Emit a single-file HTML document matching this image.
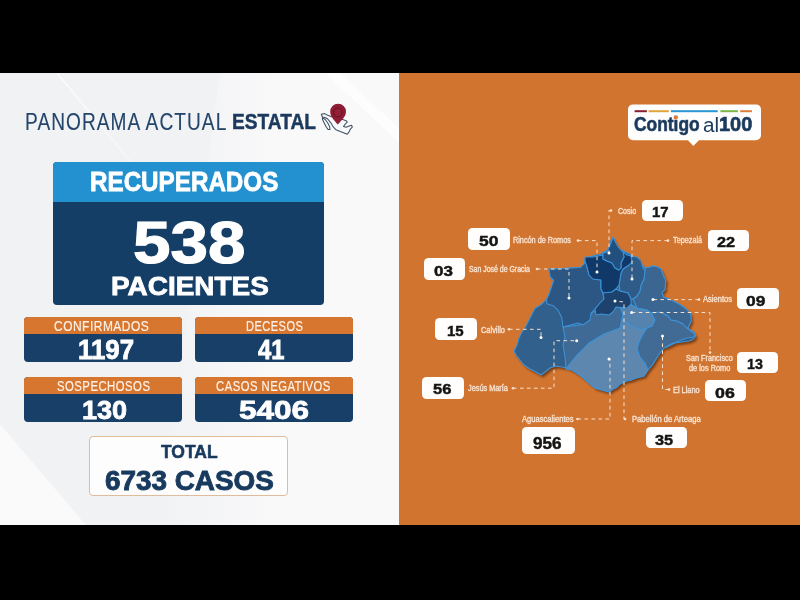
<!DOCTYPE html>
<html><head><meta charset="utf-8">
<style>
*{margin:0;padding:0;box-sizing:border-box}
html,body{width:800px;height:600px;overflow:hidden;background:#000}
body{position:relative;font-family:"Liberation Sans",sans-serif}
.left{position:absolute;left:0;top:73px;width:399px;height:452px;background:#f1f2f4;overflow:hidden}
.right{position:absolute;left:398.5px;top:73px;width:401.5px;height:452px;background:#d1742f}
.t{position:absolute;white-space:nowrap;transform-origin:0 0}
.nb{position:absolute;background:#fffefc;border-radius:4.5px}
.box{position:absolute;border-radius:4px;overflow:hidden}
</style></head><body>
<div class="left">
  <svg width="399" height="452" style="position:absolute;left:0;top:0">
    <defs>
      <linearGradient id="g1" x1="0" y1="0" x2="1" y2="1">
        <stop offset="0" stop-color="#ffffff" stop-opacity="1"/>
        <stop offset="1" stop-color="#ffffff" stop-opacity="0"/>
      </linearGradient>
      <linearGradient id="g2" x1="0" y1="0" x2="1" y2="0">
        <stop offset="0" stop-color="#f9f9fa" stop-opacity="0"/>
        <stop offset="0.5" stop-color="#f9f9fa" stop-opacity="1"/>
      </linearGradient>
    </defs>
    <polygon points="220,0 399,0 399,452 160,452" fill="url(#g2)"/>
    <polygon points="325,0 340,0 399,55 399,70" fill="#fdfdfd"/>
    <line x1="57" y1="0" x2="190" y2="160" stroke="url(#g1)" stroke-width="1.5" opacity="0.8"/>
    <polygon points="0,351 0,452 86,452" fill="#fafafb"/>
  </svg>
</div>
<div class="right"></div>

<!-- Mexico icon -->
<svg style="position:absolute;left:0;top:0" width="800" height="600" viewBox="0 0 800 600">
  <g fill="#f8f9fa" stroke="#3f4f63" stroke-width="1.05" stroke-linejoin="round">
    <path d="M321.3,114.2 L324.5,113.6 L327.7,115.2 L331,116.5 L336,118.5 L342.8,119.6 L346.6,120.9 L347.3,122.2 L344.7,124.7 L343.5,126.6 L346,127.2 L349.2,126 L351.7,125.3 L352.3,127.2 L350.4,129.1 L349.2,131.6 L347.3,134.2 L344.1,132.9 L340.3,131.6 L335.9,129.7 L333.4,127.2 L330.8,122.8 L327.7,119 L325,117.5 L322.5,117 Z"/>
    <path d="M322.3,117.6 L325.2,119.5 L327.5,122.5 L329.6,126.5 L330,129.5 L328,129.5 L326,126.5 L324,122.5 L322.5,119.5 Z"/>
  </g>
  <path d="M338.1,103.8 a7.9,7.9 0 0 1 7.9,7.9 c0,5 -5.3,9.5 -8.2,12.7 c-2.9,-3.2 -7.6,-7.7 -7.6,-12.7 a7.9,7.9 0 0 1 7.9,-7.9z" fill="#8e1c32"/>
  <circle cx="337.8" cy="112.4" r="4.3" fill="#951f36" stroke="#65121f" stroke-width="1"/>
</svg>

<!-- Recuperados box -->
<div class="box" style="left:53px;top:162px;width:271px;height:143px;background:#153e66">
  <div style="position:absolute;left:0;top:0;width:100%;height:40px;background:#2391d0"></div>
</div>
<!-- small boxes -->
<div class="box" style="left:24px;top:317px;width:158px;height:45px;background:#173f67"><div style="height:17px;background:#d7762f"></div></div>
<div class="box" style="left:195px;top:317px;width:157.5px;height:45px;background:#173f67"><div style="height:17px;background:#d7762f"></div></div>
<div class="box" style="left:24px;top:376.6px;width:158px;height:45.5px;background:#173f67"><div style="height:17px;background:#d7762f"></div></div>
<div class="box" style="left:195px;top:376.6px;width:157.5px;height:45.5px;background:#173f67"><div style="height:17px;background:#d7762f"></div></div>
<!-- total -->
<div class="box" style="left:89px;top:436px;width:199px;height:60px;background:#fdfdfd;border:1.3px solid #dfbc9c"></div>

<!-- Contigo logo -->
<svg style="position:absolute;left:620px;top:100px" width="150" height="50" viewBox="620 100 150 50">
  <path d="M633,104.4 H756 a5,5 0 0 1 5,5 V135.3 a5,5 0 0 1 -5,5 H699 L693.3,146 L688,140.3 H633 a5,5 0 0 1 -5,-5 V109.4 a5,5 0 0 1 5,-5z" fill="#fefefe"/>
  <rect x="634.6" y="110.2" width="12.3" height="2" fill="#8a1f33"/>
  <rect x="648.6" y="110.2" width="20.2" height="2" fill="#e0a63a"/>
  <rect x="670.9" y="110.2" width="46.8" height="2" fill="#2a96d2"/>
  <rect x="720.4" y="110.2" width="17.5" height="2" fill="#7ab648"/>
  <rect x="740.2" y="110.2" width="11.7" height="2" fill="#e07c3a"/>
  
</svg>

<!-- MAP -->
<svg style="position:absolute;left:0;top:0" width="800" height="600" viewBox="0 0 800 600">
  <defs>
    <filter id="sh" x="-20%" y="-20%" width="140%" height="140%"><feGaussianBlur stdDeviation="1.3"/></filter>
  </defs>
  <g id="map">
  <polygon transform="translate(2,2.5)" filter="url(#sh)" fill="#4a230c" opacity="0.65" points="613,237 615,242 618,247 621,250 630,254 633,257 638,258 640,263 645,268 650,267 653,266 657.5,267 661,269 663.5,276 665.7,280 665,289.5 662,292.5 663.5,297 671,300 680,304.5 686,309 690.5,313.5 691.2,321 689,325.5 687.5,328.5 693.5,331.5 695.7,336 693.5,339 689,341 675,343 667,347 663,348 660,353 656,359 653,364 648,370 644,376 636,378 631,380 626,381 620,384 617,387 613,389 609,392 595,388 580,375 572,370 568,368 562,367 556,366 550,368 545,372 541,375 536,372 530,369 524,365 520,360 516,355 514,351 517,345 519,338 522,332 526,326 530,318 535,308.3 540.8,304.8 546.7,299 549,294.3 551.3,287.3 553.7,280.3 550.2,276.8 549,269.3 580.5,267.5 584,264 585.2,258.2 593.3,255.8 601,254 607,250 610,248 610,242"/>
  <g stroke="#3d93d8" stroke-width="1.05" stroke-linejoin="round">
  <polygon fill="#32608c" points="613,237 615,242 618,247 621,250 630,254 633,257 638,258 640,263 645,268 650,267 653,266 657.5,267 661,269 663.5,276 665.7,280 665,289.5 662,292.5 663.5,297 671,300 680,304.5 686,309 690.5,313.5 691.2,321 689,325.5 687.5,328.5 693.5,331.5 695.7,336 693.5,339 689,341 675,343 667,347 663,348 660,353 656,359 653,364 648,370 644,376 636,378 631,380 626,381 620,384 617,387 613,389 609,392 595,388 580,375 572,370 568,368 562,367 556,366 550,368 545,372 541,375 536,372 530,369 524,365 520,360 516,355 514,351 517,345 519,338 522,332 526,326 530,318 535,308.3 540.8,304.8 546.7,299 549,294.3 551.3,287.3 553.7,280.3 550.2,276.8 549,269.3 580.5,267.5 584,264 585.2,258.2 593.3,255.8 601,254 607,250 610,248 610,242"/>
  <!-- Aguascalientes -->
  <polygon fill="#5d87af" points="620,307 628,303 637,308 647,310 651,313 655,320 652,326 647,328 643,334 639,342 637,349 640,357 645,363 648,370 644,376 636,378 631,380 626,381 620,384 617,387 613,389 609,392 595,388 580,375 572,370 566,369 572,361 578,354 589,343 604,334 620,328 623,314"/>
  <!-- SF de los Romo -->
  <polygon fill="#5683ad" points="620,307 628,303 637,308 647,310 651,313 655,320 652,326 647,328 640,330 632,326 623,320 623,314"/>
  <!-- El Llano -->
  <polygon fill="#416b94" points="651,313 660,312 668,316 671,320 677,321 683,324 687,328 692,332 695,334 694,337 687,338 679,341 671,344 664,348 660,353 656,359 653,364 648,370 645,363 640,357 637,349 639,342 643,334 647,328 652,326 655,320"/>
  <!-- Asientos -->
  <polygon fill="#3b6691" points="645,268 650,267 653,266 657.5,267 661,269 663.5,276 665.7,280 665,289.5 662,292.5 663.5,297 671,300 680,304.5 686,309 690.5,313.5 691.2,321 689,325.5 687.5,328.5 683,324 677,321 671,320 668,316 660,312 651,313 647,310 637,308 633,299 637,296 640,291 641,285 644,279"/>
  <!-- Jesus Maria -->
  <polygon fill="#3e6a95" points="563,327 580,325 588,318 593,312 602,310 613,308 620,307 623,314 620,328 604,334 589,343 578,354 572,361 566,369 565,357 563,345 565,337"/>
  <!-- San Jose de Gracia -->
  <polygon fill="#2c5784" points="549,269.3 580.5,267.5 584,264 585.5,260 587,267 589,275 593,279 601,280 601,289 603,293 604,299 600,303 595,309 591,313 590,320 583,325 578,323 563,327 561.8,317.7 558.3,310.7 553.7,306 546.7,303.7 546.7,299 549,294.3 551.3,287.3 553.7,280.3 550.2,276.8"/>
  <!-- Tepezala -->
  <polygon fill="#2f5b88" points="631,256 637,257 641,261 643,268 645,271 644,279 641,285 640,291 637,296 633,299 631,299 628,293 620,291 619,285 620,279 621,273 623,269 629,265 632,262"/>
  <!-- Rincon de Romos -->
  <polygon fill="#10396a" points="585,257 593,257 603,255 607,252 603,253 603,259 607,261 612,263 615,268 619,270 621,268 621,263 624,257 623,252 627,255 631,256 632,262 629,265 623,269 621,273 620,279 619,285 616,289 612,292 608,293 603,293 601,289 601,280 593,279 589,275 587,267 585,261"/>
  <!-- Pabellon -->
  <polygon fill="#1c426d" points="603,293 612,292 616,289 620,291 628,293 631,299 631,304 627,308 616,307 613,312 609,315 601,314 596,315 595,309 600,303 604,299"/>
  <!-- Cosio -->
  <polygon fill="#22507e" points="613,237 616,243 619,248 623,252 624,257 621,263 621,268 619,270 615,268 612,263 607,261 603,259 603,253 607,252 609,247 611,243"/>
  </g>
  <!-- dashed leader lines -->
  <g stroke="#f8e0cc" stroke-width="1" stroke-dasharray="3.6,3.4" fill="none">
    <polyline points="611,210.5 609,210.5 609,253"/>
    <polyline points="578,240.6 597,240.6 597,272"/>
    <polyline points="668,240.6 632,240.6 632,279"/>
    <polyline points="537,269 569,269 569,298"/>
    <polyline points="699,299.6 653,299.6"/>
    <polyline points="509,329.3 541,329.3 541,337.5"/>
    <polyline points="631.7,312.5 710,312.5 710,352.6"/>
    <polyline points="513,388.2 554,388.2 554,340.7 576.7,340.7"/>
    <polyline points="669,389.5 662.5,389.5 662.5,336"/>
    <polyline points="577.5,419 610,419 610,359"/>
    <polyline points="625,419 624,419 624,302 615,301"/>
  </g>
  <g fill="#ffffff">
    <circle cx="609" cy="253" r="1.5"/><circle cx="597" cy="272" r="1.5"/><circle cx="632" cy="279" r="1.5"/>
    <circle cx="569" cy="298" r="1.5"/><circle cx="653" cy="299.6" r="1.5"/><circle cx="541" cy="337.5" r="1.5"/>
    <circle cx="631.7" cy="312.5" r="1.5"/><circle cx="576.7" cy="340.7" r="1.5"/><circle cx="662.5" cy="336" r="1.5"/>
    <circle cx="609" cy="359" r="1.5"/><circle cx="615" cy="301" r="1.5"/>
  </g>
  <g fill="#fae2cf">
    <circle cx="611" cy="210.5" r="1.3"/><circle cx="578" cy="240.6" r="1.3"/><circle cx="668" cy="240.6" r="1.3"/>
    <circle cx="537" cy="269" r="1.3"/><circle cx="699" cy="299.6" r="1.3"/><circle cx="509" cy="329.3" r="1.3"/>
    <circle cx="710" cy="352.6" r="1.3"/><circle cx="513" cy="388.2" r="1.3"/><circle cx="669" cy="389.5" r="1.3"/>
    <circle cx="577.5" cy="419" r="1.3"/><circle cx="625" cy="419" r="1.3"/>
  </g>
  </g>
</svg>

<div class="nb" style="left:641.85px;top:200.25px;width:41.05px;height:21.15px"></div>
<div class="nb" style="left:468.4px;top:228.4px;width:41.2px;height:21.3px"></div>
<div class="nb" style="left:707.7px;top:229.75px;width:41.2px;height:21.25px"></div>
<div class="nb" style="left:423.9px;top:258.4px;width:41.35px;height:21.3px"></div>
<div class="nb" style="left:737.1px;top:288.25px;width:41.65px;height:20.65px"></div>
<div class="nb" style="left:435.4px;top:318.4px;width:41.2px;height:21.3px"></div>
<div class="nb" style="left:737px;top:352.1px;width:41.25px;height:21.3px"></div>
<div class="nb" style="left:422.4px;top:377.1px;width:41.2px;height:21.6px"></div>
<div class="nb" style="left:705px;top:379.75px;width:40.9px;height:21.25px"></div>
<div class="nb" style="left:522px;top:427.2px;width:52.8px;height:26.8px"></div>
<div class="nb" style="left:646px;top:426.75px;width:40.9px;height:21.25px"></div>
<div class="t" style="left:25.13px;top:111.16px;font-size:23.37px;line-height:23.37px;font-weight:400;color:#24456a;transform:scaleX(0.8174);letter-spacing:1.3px;-webkit-text-stroke:0.12px #24456a;">PANORAMA ACTUAL</div>
<div class="t" style="left:232.49px;top:110.43px;font-size:22.82px;line-height:22.82px;font-weight:700;color:#1b3a5e;transform:scaleX(0.8378);-webkit-text-stroke:0.5px #1b3a5e;">ESTATAL</div>
<div class="t" style="left:89.52px;top:169.46px;font-size:26.74px;line-height:26.74px;font-weight:700;color:#ffffff;transform:scaleX(0.9056);-webkit-text-stroke:0.8px #ffffff;">RECUPERADOS</div>
<div class="t" style="left:132.66px;top:214.45px;font-size:59.01px;line-height:59.01px;font-weight:700;color:#ffffff;transform:scaleX(1.1413);-webkit-text-stroke:1.2px #ffffff;">538</div>
<div class="t" style="left:111.06px;top:272.71px;font-size:26.45px;line-height:26.45px;font-weight:700;color:#ffffff;transform:scaleX(1.0567);-webkit-text-stroke:0.8px #ffffff;">PACIENTES</div>
<div class="t" style="left:54.44px;top:318.64px;font-size:14.24px;line-height:14.24px;font-weight:400;color:#fdf0e6;transform:scaleX(0.8404);letter-spacing:0.6px;-webkit-text-stroke:0.2px #fdf0e6;">CONFIRMADOS</div>
<div class="t" style="left:77.55px;top:337.46px;font-size:26.74px;line-height:26.74px;font-weight:700;color:#ffffff;transform:scaleX(0.9661);-webkit-text-stroke:0.8px #ffffff;">1197</div>
<div class="t" style="left:245.94px;top:318.64px;font-size:14.24px;line-height:14.24px;font-weight:400;color:#fdf0e6;transform:scaleX(0.7776);letter-spacing:0.6px;-webkit-text-stroke:0.2px #fdf0e6;">DECESOS</div>
<div class="t" style="left:258.32px;top:337.46px;font-size:26.74px;line-height:26.74px;font-weight:700;color:#ffffff;transform:scaleX(0.8900);-webkit-text-stroke:0.8px #ffffff;">41</div>
<div class="t" style="left:57.23px;top:379.24px;font-size:14.24px;line-height:14.24px;font-weight:400;color:#fdf0e6;transform:scaleX(0.7962);letter-spacing:0.6px;-webkit-text-stroke:0.2px #fdf0e6;">SOSPECHOSOS</div>
<div class="t" style="left:82.34px;top:397.31px;font-size:26.45px;line-height:26.45px;font-weight:700;color:#ffffff;transform:scaleX(1.0238);-webkit-text-stroke:0.8px #ffffff;">130</div>
<div class="t" style="left:216px;top:379.24px;font-size:14.24px;line-height:14.24px;font-weight:400;color:#fdf0e6;transform:scaleX(0.7933);letter-spacing:0.6px;-webkit-text-stroke:0.2px #fdf0e6;">CASOS NEGATIVOS</div>
<div class="t" style="left:238.57px;top:397.31px;font-size:26.45px;line-height:26.45px;font-weight:700;color:#ffffff;transform:scaleX(1.1929);-webkit-text-stroke:0.8px #ffffff;">5406</div>
<div class="t" style="left:160.56px;top:442.26px;font-size:19.19px;line-height:19.19px;font-weight:700;color:#173a5e;transform:scaleX(0.9108);-webkit-text-stroke:0.6px #173a5e;">TOTAL</div>
<div class="t" style="left:105.3px;top:468.16px;font-size:26.74px;line-height:26.74px;font-weight:700;color:#173a5e;transform:scaleX(1.0422);-webkit-text-stroke:0.9px #173a5e;">6733 CASOS</div>
<div class="t" style="left:617.98px;top:207.87px;font-size:8.21px;line-height:8.21px;font-weight:400;color:#fae2cf;transform:scaleX(0.8618);-webkit-text-stroke:0.35px #fae2cf;">Cosio</div>
<div class="t" style="left:512.95px;top:237.07px;font-size:8.21px;line-height:8.21px;font-weight:400;color:#fae2cf;transform:scaleX(0.8869);-webkit-text-stroke:0.35px #fae2cf;">Rincón de Romos</div>
<div class="t" style="left:673.22px;top:236.38px;font-size:8.79px;line-height:8.79px;font-weight:400;color:#fae2cf;transform:scaleX(0.8269);-webkit-text-stroke:0.35px #fae2cf;">Tepezalá</div>
<div class="t" style="left:468.82px;top:265.67px;font-size:8.21px;line-height:8.21px;font-weight:400;color:#fae2cf;transform:scaleX(0.8451);-webkit-text-stroke:0.35px #fae2cf;">San José de Gracia</div>
<div class="t" style="left:702.96px;top:296.47px;font-size:8.21px;line-height:8.21px;font-weight:400;color:#fae2cf;transform:scaleX(0.9261);-webkit-text-stroke:0.35px #fae2cf;">Asientos</div>
<div class="t" style="left:480.67px;top:326.67px;font-size:8.21px;line-height:8.21px;font-weight:400;color:#fae2cf;transform:scaleX(0.9048);-webkit-text-stroke:0.35px #fae2cf;">Calvillo</div>
<div class="t" style="left:685.77px;top:354.87px;font-size:8.21px;line-height:8.21px;font-weight:400;color:#fae2cf;transform:scaleX(0.8919);-webkit-text-stroke:0.35px #fae2cf;">San Francisco</div>
<div class="t" style="left:688.96px;top:364.67px;font-size:8.21px;line-height:8.21px;font-weight:400;color:#fae2cf;transform:scaleX(0.8965);-webkit-text-stroke:0.35px #fae2cf;">de los Romo</div>
<div class="t" style="left:673.1px;top:386.87px;font-size:8.21px;line-height:8.21px;font-weight:400;color:#fae2cf;transform:scaleX(0.9002);-webkit-text-stroke:0.35px #fae2cf;">El Llano</div>
<div class="t" style="left:468.41px;top:385.07px;font-size:8.21px;line-height:8.21px;font-weight:400;color:#fae2cf;transform:scaleX(0.8918);-webkit-text-stroke:0.35px #fae2cf;">Jesús María</div>
<div class="t" style="left:521.78px;top:415.87px;font-size:8.21px;line-height:8.21px;font-weight:400;color:#fae2cf;transform:scaleX(0.9260);-webkit-text-stroke:0.35px #fae2cf;">Aguascalientes</div>
<div class="t" style="left:631.87px;top:415.87px;font-size:8.21px;line-height:8.21px;font-weight:400;color:#fae2cf;transform:scaleX(0.9286);-webkit-text-stroke:0.35px #fae2cf;">Pabellón de Arteaga</div>
<div class="t" style="left:652.01px;top:204.44px;font-size:15.04px;line-height:15.04px;font-weight:700;color:#141414;transform:scaleX(0.9906);-webkit-text-stroke:0.45px #141414;">17</div>
<div class="t" style="left:479.16px;top:233.44px;font-size:15.04px;line-height:15.04px;font-weight:700;color:#141414;transform:scaleX(1.1590);-webkit-text-stroke:0.45px #141414;">50</div>
<div class="t" style="left:717.23px;top:235.23px;font-size:14.97px;line-height:14.97px;font-weight:700;color:#141414;transform:scaleX(1.0893);-webkit-text-stroke:0.45px #141414;">22</div>
<div class="t" style="left:434.04px;top:263.93px;font-size:14.46px;line-height:14.46px;font-weight:700;color:#141414;transform:scaleX(1.1752);-webkit-text-stroke:0.45px #141414;">03</div>
<div class="t" style="left:746.17px;top:293.02px;font-size:15.48px;line-height:15.48px;font-weight:700;color:#141414;transform:scaleX(1.1229);-webkit-text-stroke:0.45px #141414;">09</div>
<div class="t" style="left:447.32px;top:324.01px;font-size:14.9px;line-height:14.9px;font-weight:700;color:#141414;transform:scaleX(1.0108);-webkit-text-stroke:0.45px #141414;">15</div>
<div class="t" style="left:747.39px;top:356.71px;font-size:14.32px;line-height:14.32px;font-weight:700;color:#141414;transform:scaleX(0.9944);-webkit-text-stroke:0.45px #141414;">13</div>
<div class="t" style="left:432.9px;top:382.31px;font-size:14.32px;line-height:14.32px;font-weight:700;color:#141414;transform:scaleX(1.1541);-webkit-text-stroke:0.45px #141414;">56</div>
<div class="t" style="left:714.83px;top:386px;font-size:14.83px;line-height:14.83px;font-weight:700;color:#141414;transform:scaleX(1.1976);-webkit-text-stroke:0.45px #141414;">06</div>
<div class="t" style="left:533.35px;top:436.35px;font-size:15.63px;line-height:15.63px;font-weight:700;color:#141414;transform:scaleX(1.0945);-webkit-text-stroke:0.45px #141414;">956</div>
<div class="t" style="left:655.3px;top:431.69px;font-size:15.33px;line-height:15.33px;font-weight:700;color:#141414;transform:scaleX(1.0648);-webkit-text-stroke:0.45px #141414;">35</div>
<div class="t" style="left:634.03px;top:115.21px;font-size:19.48px;line-height:19.48px;font-weight:700;color:#1b3a5c;transform:scaleX(0.8930);-webkit-text-stroke:0.6px #1b3a5c;">Contigo</div>
<div class="t" style="left:703.12px;top:114.77px;font-size:20.35px;line-height:20.35px;font-weight:400;color:#1b3a5c;transform:scaleX(1.0202);">al</div>
<div class="t" style="left:718.79px;top:115.21px;font-size:19.48px;line-height:19.48px;font-weight:700;color:#1b3a5c;transform:scaleX(1.0267);-webkit-text-stroke:0.6px #1b3a5c;">100</div>
<svg style="position:absolute;left:0;top:0" width="800" height="600"><circle cx="675.6" cy="117.6" r="2" fill="#e07b39"/></svg>
</body></html>
